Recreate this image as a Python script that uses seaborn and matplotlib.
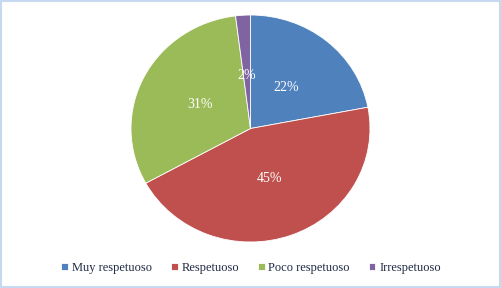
import matplotlib
matplotlib.use("Agg")
import matplotlib.pyplot as plt
import seaborn as sns
from matplotlib.patches import Rectangle

categories = ["Muy respetuoso", "Respetuoso", "Poco respetuoso", "Irrespetuoso"]
values = [22, 45, 31, 2]
colors = ["#4F81BD", "#C0504D", "#9BBB59", "#8064A2"]

sns.set_theme(style="white")
plt.rcParams['font.family'] = ['Liberation Serif', 'DejaVu Serif']

fig = plt.figure(figsize=(5.02, 2.88), dpi=100)
fig.patch.set_facecolor("white")
fig.add_artist(Rectangle((0.002, 0.003), 0.995, 0.992, transform=fig.transFigure,
                         fill=False, edgecolor="#C6D9F1", linewidth=1.5))

# pie box in pixels: slightly wider than tall, like the original
rx, ry = 119.5, 113.5
cx, cy = 250.5, 159.5
ax = fig.add_axes([(cx - rx) / 502, (cy - ry) / 288, 2 * rx / 502, 2 * ry / 288])
wedges, texts, autotexts = ax.pie(
    values, colors=colors, startangle=90, counterclock=False,
    autopct="%d%%", pctdistance=0.47,
    wedgeprops=dict(edgecolor="white", linewidth=0.6),
    textprops=dict(color="white", fontsize=10),
)
ax.set_xlim(-1, 1)
ax.set_ylim(-1, 1)
ax.set_aspect("auto")

leg = fig.legend(wedges, categories, loc="center", bbox_to_anchor=(0.5, 1 - 268 / 288),
                 ncol=4, frameon=False, fontsize=9, handlelength=0.55, handleheight=0.55,
                 handletextpad=0.3, columnspacing=1.5)
for t in leg.get_texts():
    t.set_color("#1F2A44")

fig.savefig("out.png", dpi=100)
